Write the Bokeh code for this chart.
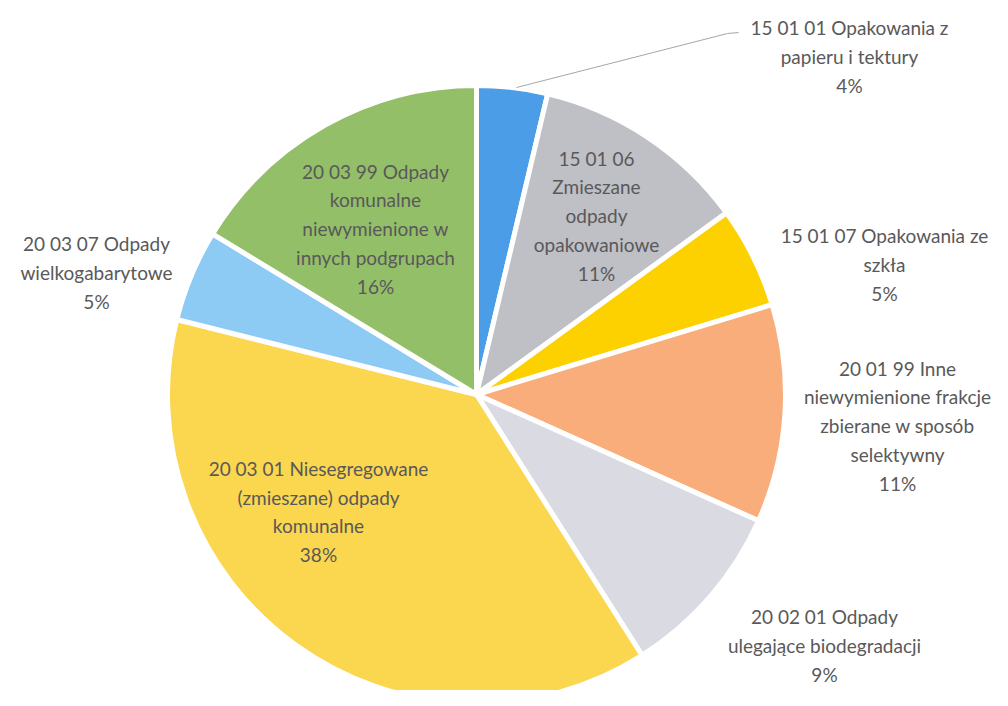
import math
from bokeh.plotting import figure
from bokeh.models import ColumnDataSource, Range1d
from bokeh.core.properties import value
from bokeh.embed import file_html
from bokeh.resources import INLINE

# ---- data ----
categories = [
    "15 01 01 Opakowania z\npapieru i tektury",
    "15 01 06\nZmieszane\nodpady\nopakowaniowe",
    "15 01 07 Opakowania ze\nszkła",
    "20 01 99 Inne\nniewymienione frakcje\nzbierane w sposób\nselektywny",
    "20 02 01 Odpady\nulegające biodegradacji",
    "20 03 01 Niesegregowane\n(zmieszane) odpady\nkomunalne",
    "20 03 07 Odpady\nwielkogabarytowe",
    "20 03 99 Odpady\nkomunalne\nniewymienione w\ninnych podgrupach",
]
values = [3.7, 11.3, 5.3, 11.4, 9.3, 37.9, 4.8, 16.3]
pct_labels = ["4%", "11%", "5%", "11%", "9%", "38%", "5%", "16%"]

# ---- layout / style ----
colors = ["#4a9de6", "#bfbfc6", "#fdd000", "#f8ad7a", "#dadae3",
          "#fbd64f", "#8dcaf4", "#93bf69"]
W, H = 992, 690
IMG_H = 706
def ty(y):  # image y -> data y
    return IMG_H - y

cx, cy, r = 476, ty(394), 309
label_x = [849, 596, 884, 897, 824, 318, 96, 375]
label_y = [ty(56), ty(215), ty(264), ty(425), ty(645), ty(511), ty(272), ty(228)]

total = sum(values)
starts, ends = [], []
cum = 0.0
for v in values:
    starts.append(math.pi / 2 - 2 * math.pi * cum / total)
    cum += v
    ends.append(math.pi / 2 - 2 * math.pi * cum / total)

src = ColumnDataSource(dict(start=starts, end=ends, color=colors))

p = figure(width=W, height=H, output_backend="svg", toolbar_location=None,
           x_range=Range1d(0, W), y_range=Range1d(IMG_H - H, IMG_H),
           min_border=0)
p.axis.visible = False
p.grid.visible = False
p.outline_line_color = None
p.background_fill_color = "white"

p.wedge(x=cx, y=cy, radius=r, start_angle="start", end_angle="end",
        direction="clock", fill_color="color", line_color="white",
        line_width=5, source=src)

# leader line for the small first slice
p.line(x=[516, 727, 738], y=[ty(87), ty(33), ty(32)], line_color="#a6a6a6",
       line_width=1)

texts = [c + "\n" + pc for c, pc in zip(categories, pct_labels)]
tsrc = ColumnDataSource(dict(x=label_x, y=label_y, t=texts))
p.text(x="x", y="y", text="t", source=tsrc, text_align="center",
       text_baseline="middle", text_font=value("Lato"),
       text_font_size="19px", text_color="#595959", text_line_height=1.25)

open("out.html", "w").write(file_html(p, INLINE))
